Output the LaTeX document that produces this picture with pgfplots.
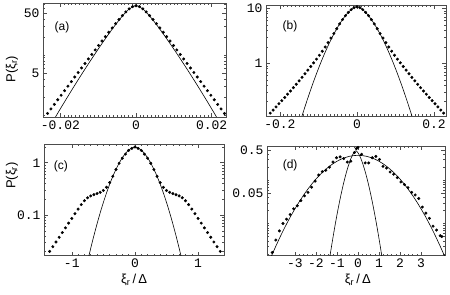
\documentclass[border=0pt]{standalone}
\usepackage{fontspec}
\setmainfont{Liberation Sans}
\setmonofont{Liberation Mono}
\usepackage{pgfplots}
\pgfplotsset{compat=1.18}
\pgfplotsset{
  mypanel/.style={
    scale only axis, anchor=south west, scaled ticks=false,
    axis line style={black!70, line width=0.8pt},
    tick style={black!70, line width=0.5pt},
    major tick length=4bp, minor tick length=2bp, tick align=inside,
    ticklabel style={font=\ttfamily\fontsize{13bp}{13bp}\selectfont},
    label style={font=\fontsize{13bp}{14bp}\selectfont},
  },
  mydots/.style={only marks, mark=*, mark size=1.3bp, black},
  mycurve/.style={black, line width=0.6pt, smooth, no marks},
}
\begin{document}
\begin{tikzpicture}
\useasboundingbox (0,0) rectangle (450bp,295bp);
% (a)
\begin{axis}[mypanel, ymode=log, at={(43bp,178bp)}, width=183bp, height=113.7bp,
  xmin=-0.0246, xmax=0.0238, ymin=0.925, ymax=72.6,
  xtick={-0.02,0,0.02}, xticklabels={-0.02,0,0.02}, minor x tick num=19,
  ytick={5,50}, yticklabels={5,50},
  minor ytick={1,2,3,4,6,7,8,9,10,20,30,40,60,70},
  ylabel={P(ξ\textsubscript{r})},
  ylabel style={at={(axis description cs:-0.17,0.42)}, anchor=center}]
\addplot[mydots] coordinates {(-0.0234,1.06)(-0.0225,1.26)(-0.0216,1.50)(-0.0207,1.79)(-0.0198,2.13)(-0.0189,2.54)(-0.0180,3.02)(-0.0171,3.60)(-0.0162,4.29)(-0.0153,5.10)(-0.0144,6.07)(-0.0135,7.22)(-0.0126,8.58)(-0.0117,10.20)(-0.0108,12.12)(-0.0099,14.39)(-0.0090,17.07)(-0.0081,20.22)(-0.0072,23.93)(-0.0063,28.24)(-0.0054,33.24)(-0.0045,38.96)(-0.0036,45.3)(-0.0027,52.1)(-0.0018,58.7)(-0.0009,64.0)(0,66.07)(0.0009,64.0)(0.0018,58.7)(0.0027,52.1)(0.0036,45.3)(0.0045,38.96)(0.0054,33.24)(0.0063,28.24)(0.0072,23.93)(0.0081,20.22)(0.0090,17.07)(0.0099,14.39)(0.0108,12.12)(0.0117,10.20)(0.0126,8.58)(0.0135,7.22)(0.0144,6.07)(0.0153,5.10)(0.0162,4.29)(0.0171,3.60)(0.0180,3.02)(0.0189,2.54)(0.0198,2.13)(0.0207,1.79)(0.0216,1.50)(0.0225,1.26)(0.0234,1.06)};
\addplot[mycurve] coordinates {(-0.024,0.472)(-0.022,0.778)(-0.020,1.27)(-0.018,2.05)(-0.016,3.28)(-0.014,5.19)(-0.012,8.11)(-0.010,12.53)(-0.008,19.09)(-0.006,28.58)(-0.004,41.61)(-0.002,57.06)(0,66.07)(0.002,57.06)(0.004,41.61)(0.006,28.58)(0.008,19.09)(0.010,12.53)(0.012,8.11)(0.014,5.19)(0.016,3.28)(0.018,2.05)(0.020,1.27)(0.022,0.778)(0.024,0.472)};
\node[font=\fontsize{12bp}{12bp}\selectfont] at (axis description cs:0.104,0.79) {(a)};
\end{axis}
% (b)
\begin{axis}[mypanel, ymode=log, at={(266bp,179bp)}, width=180bp, height=111bp,
  xmin=-0.236, xmax=0.231, ymin=0.110, ymax=11.5,
  xtick={-0.2,0,0.2}, xticklabels={-0.2,0,0.2}, minor x tick num=19,
  ytick={1,10}, yticklabels={1,10},
  minor ytick={0.2,0.3,0.4,0.5,0.6,0.7,0.8,0.9,2,3,4,5,6,7,8,9}]
\addplot[mydots] coordinates {(-0.225,0.124)(-0.2175,0.141)(-0.210,0.161)(-0.2025,0.184)(-0.195,0.209)(-0.1875,0.239)(-0.180,0.274)(-0.1725,0.313)(-0.165,0.360)(-0.1575,0.415)(-0.150,0.480)(-0.1425,0.556)(-0.135,0.646)(-0.1275,0.752)(-0.120,0.875)(-0.1125,1.02)(-0.105,1.19)(-0.0975,1.40)(-0.090,1.66)(-0.0825,1.98)(-0.075,2.38)(-0.0675,2.88)(-0.060,3.48)(-0.0525,4.25)(-0.045,5.20)(-0.0375,6.24)(-0.030,7.35)(-0.0225,8.43)(-0.015,9.46)(-0.0075,10.28)(0,10.72)(0.0075,10.28)(0.015,9.46)(0.0225,8.43)(0.030,7.35)(0.0375,6.24)(0.045,5.20)(0.0525,4.25)(0.060,3.48)(0.0675,2.88)(0.075,2.38)(0.0825,1.98)(0.090,1.66)(0.0975,1.40)(0.105,1.19)(0.1125,1.02)(0.120,0.875)(0.1275,0.752)(0.135,0.646)(0.1425,0.556)(0.150,0.480)(0.1575,0.415)(0.165,0.360)(0.1725,0.313)(0.180,0.274)(0.1875,0.239)(0.195,0.209)(0.2025,0.184)(0.210,0.161)(0.2175,0.141)(0.225,0.124)};
\addplot[mycurve] coordinates {(-0.15,0.0748)(-0.14,0.1256)(-0.13,0.2065)(-0.12,0.332)(-0.11,0.522)(-0.10,0.800)(-0.09,1.197)(-0.08,1.744)(-0.07,2.47)(-0.06,3.41)(-0.05,4.55)(-0.04,5.89)(-0.03,7.34)(-0.02,8.80)(-0.01,10.04)(0,10.72)(0.01,10.04)(0.02,8.80)(0.03,7.34)(0.04,5.89)(0.05,4.55)(0.06,3.41)(0.07,2.47)(0.08,1.744)(0.09,1.197)(0.10,0.800)(0.11,0.522)(0.12,0.332)(0.13,0.2065)(0.14,0.1256)(0.15,0.0748)};
\node[font=\fontsize{12bp}{12bp}\selectfont] at (axis description cs:0.133,0.81) {(b)};
\end{axis}
% (c)
\begin{axis}[mypanel, ymode=log, at={(44bp,39.3bp)}, width=180bp, height=111.4bp,
  xmin=-1.44, xmax=1.41, ymin=0.0167, ymax=2.25,
  xtick={-1,0,1}, xticklabels={-1,0,1}, minor x tick num=9,
  ytick={0.1,1}, yticklabels={0.1,1},
  minor ytick={0.02,0.03,0.04,0.05,0.06,0.07,0.08,0.09,0.2,0.3,0.4,0.5,0.6,0.7,0.8,0.9,2},
  ylabel={P(ξ\textsubscript{r})},
  ylabel style={at={(axis description cs:-0.178,0.72)}, anchor=center},
  xlabel={ξ\textsubscript{r}\,/\,Δ},
  xlabel style={at={(axis description cs:0.5,-0.22)}, anchor=center}]
\addplot[mydots] coordinates {(-1.35,0.0202)(-1.30,0.0248)(-1.25,0.0305)(-1.20,0.0376)(-1.15,0.0462)(-1.10,0.0569)(-1.05,0.070)(-1.00,0.0861)(-0.95,0.106)(-0.90,0.130)(-0.85,0.158)(-0.80,0.188)(-0.75,0.214)(-0.70,0.232)(-0.65,0.245)(-0.60,0.257)(-0.55,0.272)(-0.50,0.295)(-0.45,0.339)(-0.40,0.417)(-0.35,0.550)(-0.30,0.741)(-0.25,0.977)(-0.20,1.22)(-0.15,1.46)(-0.10,1.72)(-0.05,1.88)(0,2.00)(0.05,1.88)(0.10,1.72)(0.15,1.46)(0.20,1.22)(0.25,0.977)(0.30,0.741)(0.35,0.550)(0.40,0.417)(0.45,0.339)(0.50,0.295)(0.55,0.272)(0.60,0.257)(0.65,0.245)(0.70,0.232)(0.75,0.214)(0.80,0.188)(0.85,0.158)(0.90,0.130)(0.95,0.106)(1.00,0.0861)(1.05,0.070)(1.10,0.0569)(1.15,0.0462)(1.20,0.0376)(1.25,0.0305)(1.30,0.0248)(1.35,0.0202)};
\addplot[mycurve] coordinates {(-0.75,0.0129)(-0.70,0.0232)(-0.65,0.0403)(-0.60,0.0679)(-0.55,0.1106)(-0.50,0.1741)(-0.45,0.2646)(-0.40,0.3886)(-0.35,0.550)(-0.30,0.7505)(-0.25,0.986)(-0.20,1.243)(-0.15,1.504)(-0.10,1.740)(-0.05,1.918)(0,1.995)(0.05,1.918)(0.10,1.740)(0.15,1.504)(0.20,1.243)(0.25,0.986)(0.30,0.7505)(0.35,0.550)(0.40,0.3886)(0.45,0.2646)(0.50,0.1741)(0.55,0.1106)(0.60,0.0679)(0.65,0.0403)(0.70,0.0232)(0.75,0.0129)};
\node[font=\fontsize{12bp}{12bp}\selectfont] at (axis description cs:0.094,0.80) {(c)};
\end{axis}
% (d)
\begin{axis}[mypanel, ymode=log, at={(267bp,39.3bp)}, width=178bp, height=109.7bp,
  xmin=-4.33, xmax=4.14, ymin=0.00181, ymax=0.618,
  xtick={-3,-2,-1,0,1,2,3}, xticklabels={-3,-2,-1,0,1,2,3}, minor x tick num=4,
  ytick={0.05,0.5}, yticklabels={0.05,0.5},
  minor ytick={0.002,0.003,0.004,0.005,0.006,0.007,0.008,0.009,0.01,0.02,0.03,0.04,0.06,0.07,0.08,0.09,0.1,0.2,0.3,0.4,0.6},
  xlabel={ξ\textsubscript{r}\,/\,Δ},
  xlabel style={at={(axis description cs:0.51,-0.22)}, anchor=center}]
\addplot[mydots] coordinates {(-4.08,0.00214)(-3.91,0.00417)(-3.74,0.00676)(-3.57,0.0100)(-3.40,0.0126)(-3.23,0.0162)(-3.06,0.0219)(-2.89,0.0257)(-2.72,0.0339)(-2.55,0.0437)(-2.38,0.0525)(-2.21,0.0692)(-2.04,0.0955)(-1.87,0.132)(-1.70,0.158)(-1.53,0.170)(-1.36,0.200)(-1.19,0.263)(-1.02,0.331)(-0.85,0.347)(-0.68,0.316)(-0.51,0.263)(-0.34,0.275)(-0.17,0.437)(-0.08,0.537)(0,0.575)(0.17,0.398)(0.34,0.251)(0.51,0.251)(0.68,0.331)(0.85,0.355)(1.02,0.302)(1.19,0.209)(1.36,0.191)(1.53,0.155)(1.70,0.138)(1.87,0.115)(2.04,0.0912)(2.21,0.0794)(2.38,0.0676)(2.55,0.0525)(2.72,0.0457)(2.89,0.0380)(3.06,0.0240)(3.23,0.0174)(3.40,0.0132)(3.57,0.00871)(3.74,0.00708)(3.91,0.00525)(3.99,0.00501)};
\addplot[mycurve] coordinates {(-4.4,0.000832)(-4.0,0.00240)(-3.6,0.00628)(-3.2,0.01483)(-2.8,0.0316)(-2.4,0.0610)(-2.0,0.1065)(-1.6,0.1678)(-1.2,0.2390)(-0.8,0.3078)(-0.4,0.358)(0,0.3767)(0.4,0.358)(0.8,0.3078)(1.2,0.2390)(1.6,0.1678)(2.0,0.1065)(2.4,0.0610)(2.8,0.0316)(3.2,0.01483)(3.6,0.00628)(4.0,0.00240)(4.4,0.000832)};
\addplot[mycurve] coordinates {(-1.4,0.00109)(-1.3,0.00225)(-1.2,0.00448)(-1.1,0.00861)(-1.0,0.01595)(-0.9,0.0284)(-0.8,0.0486)(-0.7,0.0797)(-0.6,0.1248)(-0.5,0.186)(-0.4,0.263)(-0.3,0.349)(-0.2,0.4305)(-0.1,0.479)(0,0.4305)(0.1,0.349)(0.2,0.263)(0.3,0.186)(0.4,0.1248)(0.5,0.0797)(0.6,0.0486)(0.7,0.0284)(0.8,0.01595)(0.9,0.00861)(1.0,0.00448)(1.1,0.00225)(1.2,0.00109)};
\node[font=\fontsize{12bp}{12bp}\selectfont] at (axis description cs:0.13,0.82) {(d)};
\end{axis}
\end{tikzpicture}
\end{document}
